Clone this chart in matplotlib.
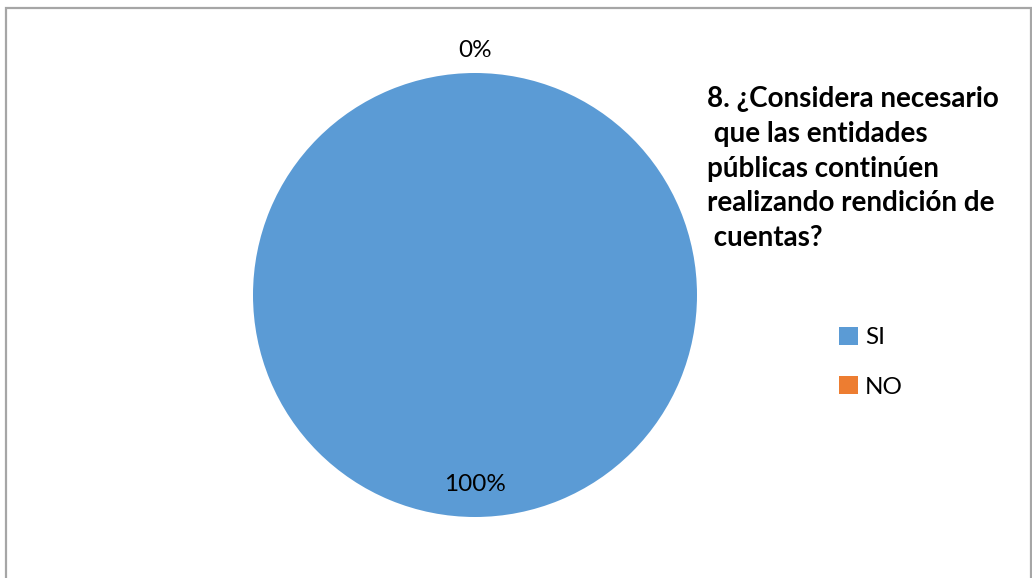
import matplotlib
matplotlib.use("Agg")
import matplotlib.pyplot as plt
from matplotlib.patches import Rectangle
import numpy as np

# datos
categorias = ["SI", "NO"]
valores = [100, 0]
colores = ["#5B9BD5", "#ED7D31"]
titulo = "8. ¿Considera necesario\n que las entidades\npúblicas continúen\nrealizando rendición de\n cuentas?"

plt.rcParams["font.family"] = ["Lato", "DejaVu Sans"]

W, H = 1032, 578
fig = plt.figure(figsize=(W / 100, H / 100), dpi=100)

# marco gris (sin borde inferior visible)
fig.patches.append(Rectangle((5.5 / W, -0.02), (1031 - 5.5) / W, 1.02 - 7.5 / H,
                             transform=fig.transFigure, fill=False,
                             edgecolor="#A6A6A6", linewidth=1.6))

# pie
cx, cy, r = 475, 295, 222
ax = fig.add_axes([(cx - r) / W, 1 - (cy + r) / H, 2 * r / W, 2 * r / H])
wedges, _ = ax.pie(valores, colors=colores, startangle=90, counterclock=False,
                   radius=1.0, wedgeprops=dict(linewidth=0))
ax.set_xlim(-1, 1)
ax.set_ylim(-1, 1)
ax.set_aspect("equal")

total = sum(valores)
for w, v in zip(wedges, valores):
    ang = np.deg2rad((w.theta1 + w.theta2) / 2)
    dist = 0.855 if v > 0 else 1.1
    ax.text(dist * np.cos(ang), dist * np.sin(ang), f"{v / total * 100:.0f}%",
            ha="center", va="center", fontsize=17.5, color="black")

# titulo
fig.text(707 / W, 1 - 86 / H, titulo, ha="left", va="top", fontsize=20,
         fontweight="bold", linespacing=1.42)

# leyenda
fig.legend(wedges, categorias, loc="upper left",
           bbox_to_anchor=(817 / W, 1 - 305 / H), frameon=False,
           fontsize=17.5, handlelength=0.78, handleheight=0.78,
           labelspacing=1.13, handletextpad=0.3)

fig.savefig("out.png", dpi=100)
